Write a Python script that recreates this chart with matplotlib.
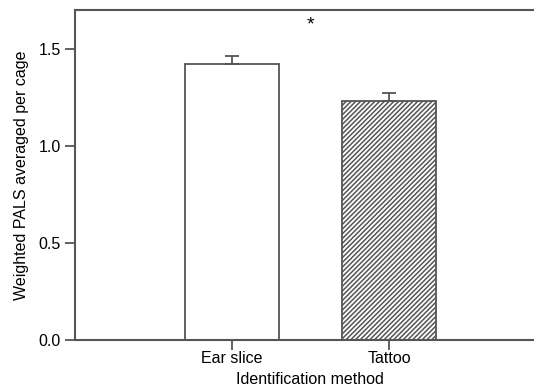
import matplotlib
matplotlib.use("Agg")
import matplotlib.pyplot as plt

plt.rcParams['font.family'] = ['Liberation Sans', 'DejaVu Sans']
plt.rcParams['hatch.color'] = '#3c3c3c'
plt.rcParams['hatch.linewidth'] = 1.1

methods = ["Ear slice", "Tattoo"]
pals_mean = [1.42, 1.23]
pals_sem = [0.045, 0.045]
yticks = [0.0, 0.5, 1.0, 1.5]

fig = plt.figure(figsize=(5.34, 3.89), dpi=100)
# axes run slightly past the right edge so no right-hand frame shows
ax = fig.add_axes([75 / 534, 49 / 389, 470 / 534, 330 / 389])

x = range(len(methods))
edge = '#555555'
bars = ax.bar(x, pals_mean, width=0.6, color='white', edgecolor=edge, linewidth=1.3,
              yerr=[[0, 0], pals_sem], error_kw=dict(ecolor=edge, elinewidth=1.3, capsize=5, capthick=1.3))
bars[1].set_hatch('/' * 7)

# significance marker between the two groups
ax.text(0.5, 1.625, '*', ha='center', va='center', fontsize=14)

ax.set_xlim(-1, 1.994)
ax.set_ylim(0, 1.7)
ax.set_xticks(list(x))
ax.set_xticklabels(methods)
ax.set_yticks(yticks)
ax.set_yticklabels([f"{t:.1f}" for t in yticks])

for side in ['left', 'bottom', 'top']:
    ax.spines[side].set_color(edge)
    ax.spines[side].set_linewidth(1.5)
ax.spines['right'].set_visible(False)

ax.tick_params(axis='both', direction='out', length=7, width=1.3, color=edge,
               labelsize=11.5, pad=3)
ax.tick_params(axis='x', pad=1)
ax.set_xlabel("Identification method", fontsize=11.5, labelpad=4)
ax.set_ylabel("Weighted PALS averaged per cage", fontsize=11.5, labelpad=7)

fig.savefig("out.png", dpi=100)
